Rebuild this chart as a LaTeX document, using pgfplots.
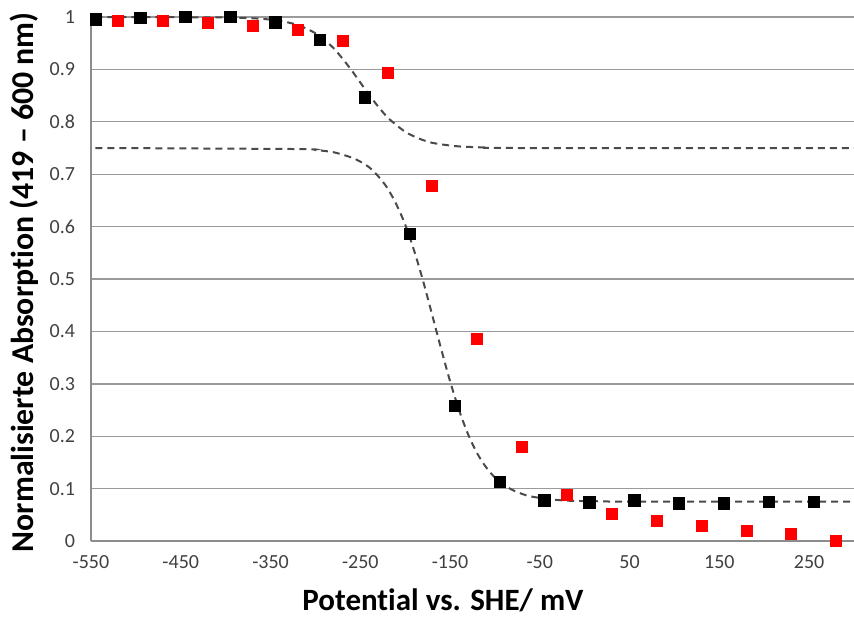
\documentclass[border=0pt]{standalone}
\usepackage{fontspec}
\setmainfont{Carlito}[Ligatures=NoCommon]
\usepackage{pgfplots}
\pgfplotsset{compat=1.18}
\definecolor{gridgray}{HTML}{9A9A9A}
\definecolor{axgray}{HTML}{8C8C8C}
\definecolor{tickgray}{HTML}{404040}
\definecolor{fitgray}{HTML}{4A4A4A}
\begin{document}
\begin{tikzpicture}
\useasboundingbox (-91pt,-78pt) rectangle (763pt,541pt);
\begin{axis}[
  at={(0pt,0pt)}, anchor=south west,
  scale only axis, width=763pt, height=524pt,
  xmin=-550, xmax=300, ymin=0, ymax=1,
  axis x line=bottom, axis y line=left,
  axis line style={draw=axgray, line width=1.4pt, -},
  xtick={-550,-450,-350,-250,-150,-50,50,150,250},
  xticklabels={-550,-450,-350,-250,-150,-50,50,150,250},
  ytick={0,0.1,0.2,0.3,0.4,0.5,0.6,0.7,0.8,0.9,1},
  yticklabels={0,0.1,0.2,0.3,0.4,0.5,0.6,0.7,0.8,0.9,1},
  major tick length=0pt,
  ymajorgrids, grid style={draw=gridgray, line width=1.4pt},
  /pgf/number format/assume math mode=true,
  ticklabel style={font=\fontsize{20}{24}\selectfont, text=tickgray},
  yticklabel style={anchor=east, xshift=-12.5pt},
  xticklabel style={anchor=north, yshift=-10.5pt},
  xlabel={\textbf{Potential vs. SHE/ mV}},
  ylabel={\textbf{Normalisierte Absorption (419 – 600 nm)}},
  xlabel style={font=\fontsize{31}{36}\selectfont, at={(axis description cs:0.4613,-0.1317)}, anchor=base},
  ylabel style={font=\fontsize{31.8}{36}\selectfont, at={(axis description cs:-0.076,0.4935)}, anchor=base},
  clip mode=individual,
]
\addplot[fitgray, line width=2pt, dash pattern=on 7pt off 5pt, smooth] coordinates {
(-545,1.000) (-400,0.999) (-350,0.995) (-320,0.985) (-300,0.969) (-290,0.956)
(-280,0.941) (-270,0.921) (-260,0.899) (-250,0.875) (-240,0.851) (-230,0.829)
(-220,0.809) (-210,0.794) (-200,0.781) (-190,0.772) (-180,0.765) (-170,0.760)
(-160,0.757) (-140,0.753) (-110,0.751) (-80,0.750) (300,0.750)
};
\addplot[fitgray, line width=2pt, dash pattern=on 7pt off 5pt, smooth] coordinates {
(-545,0.750) (-320,0.748) (-300,0.746) (-280,0.742) (-260,0.732) (-250,0.724)
(-240,0.713) (-230,0.696) (-220,0.674) (-210,0.643) (-200,0.604) (-190,0.554)
(-180,0.496) (-170,0.432) (-160,0.367) (-150,0.305) (-140,0.250) (-130,0.204)
(-120,0.168) (-110,0.141) (-100,0.121) (-90,0.107) (-80,0.097) (-70,0.090)
(-60,0.085) (-40,0.080) (-20,0.077) (10,0.076) (60,0.075) (300,0.075)
};
\addplot[only marks, mark=square*, mark size=5.7pt, mark options={fill=black, draw=black}] coordinates {
(-545,0.996) (-495,0.999) (-445,1.000) (-395,1.000) (-345,0.990) (-295,0.957)
(-245,0.847) (-195,0.587) (-145,0.258) (-95,0.113) (-45,0.078) (5,0.074)
(55,0.078) (105,0.072) (155,0.072) (205,0.075) (255,0.075)
};
\addplot[only marks, mark=square*, mark size=5.5pt, mark options={fill=red, draw=red}] coordinates {
(-520,0.993) (-470,0.993) (-420,0.989) (-370,0.983) (-320,0.976) (-270,0.954)
(-220,0.893) (-170,0.678) (-120,0.387) (-70,0.180) (-20,0.088) (30,0.052)
(80,0.039) (130,0.029) (180,0.020) (230,0.013) (280,0.001)
};
\end{axis}
\end{tikzpicture}
\end{document}
